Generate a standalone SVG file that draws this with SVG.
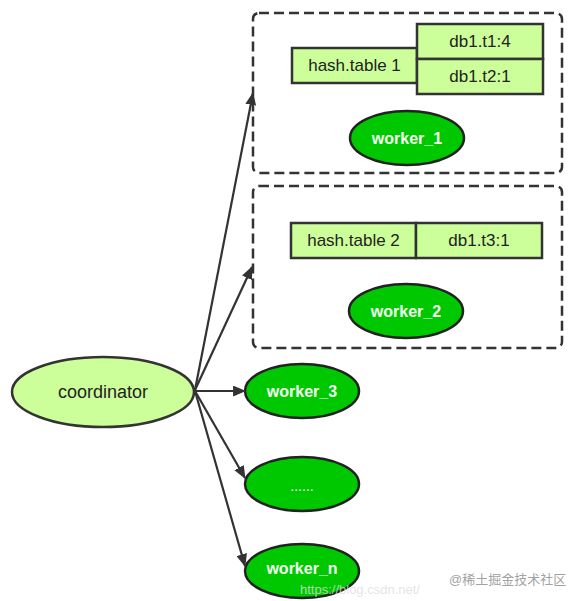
<svg xmlns="http://www.w3.org/2000/svg" width="574" height="601" viewBox="0 0 574 601">
<defs>
<style>
.box{fill:none;stroke:#333;stroke-width:2.5;stroke-dasharray:10,5}
.cell{fill:#ccff99;stroke:#333;stroke-width:2.5}
.w{fill:#00c800;stroke:#222;stroke-width:2.5}
.c{fill:#ccff99;stroke:#333;stroke-width:2.5}
.t{font-family:"Liberation Sans",Arial,sans-serif;font-size:17px;text-anchor:middle;dominant-baseline:central;fill:#222}
.tw{font-family:"Liberation Sans",Arial,sans-serif;font-size:16px;font-weight:bold;text-anchor:middle;dominant-baseline:central;fill:#f4fff0}
.e{fill:none;stroke:#333;stroke-width:2.2;marker-end:url(#ah)}
</style>
<marker id="ah" viewBox="0 0 12 10" refX="11" refY="5" markerWidth="13" markerHeight="11" markerUnits="userSpaceOnUse" orient="auto">
<path d="M0,0 L12,5 L0,10 z" fill="#333"/>
</marker>
</defs>
<rect width="574" height="601" fill="#fff"/>
<g id="group1">
<rect class="box" x="253" y="13" width="309" height="160" rx="6"/>
</g>
<g id="group2">
<rect class="box" x="253" y="186" width="309" height="162" rx="6"/>
</g>
<g id="hash1">
<rect class="cell" x="292" y="48" width="125" height="35"/>
<text class="t" x="354.5" y="65.5">hash.table 1</text>
</g>
<g id="db1t1">
<rect class="cell" x="417" y="24" width="126" height="35"/>
<text class="t" x="480" y="41.5">db1.t1:4</text>
</g>
<g id="db1t2">
<rect class="cell" x="417" y="59" width="126" height="35"/>
<text class="t" x="480" y="76.5">db1.t2:1</text>
</g>
<g id="worker_1">
<ellipse class="w" cx="407" cy="138" rx="57" ry="27"/>
<text class="tw" x="407" y="138">worker_1</text>
</g>
<g id="hash2">
<rect class="cell" x="291" y="223" width="125" height="35"/>
<text class="t" x="353.5" y="240.5">hash.table 2</text>
</g>
<g id="db1t3">
<rect class="cell" x="416" y="223" width="126" height="35"/>
<text class="t" x="479" y="240.5">db1.t3:1</text>
</g>
<g id="worker_2">
<ellipse class="w" cx="406" cy="311" rx="57" ry="27"/>
<text class="tw" x="406" y="311">worker_2</text>
</g>
<g id="coordinator">
<ellipse class="c" cx="103" cy="392" rx="91" ry="35"/>
<text class="t" x="103" y="392" style="font-size:18px">coordinator</text>
</g>
<g id="worker_3">
<ellipse class="w" cx="302" cy="391" rx="57" ry="27"/>
<text class="tw" x="302" y="391">worker_3</text>
</g>
<g id="worker_dots">
<ellipse class="w" cx="302" cy="484" rx="57" ry="27"/>
<text class="tw" x="302" y="486" style="font-weight:normal;font-size:14px">......</text>
</g>
<g id="worker_n">
<ellipse class="w" cx="302" cy="571" rx="57" ry="27"/>
<text class="tw" x="302" y="568">worker_n</text>
</g>
<g id="connectors">
<path class="e" d="M195,390 L253,93"/>
<path class="e" d="M195,390 L252,267"/>
<path class="e" d="M195,391 L245,391"/>
<path class="e" d="M195,391 L245,478"/>
<path class="e" d="M195,391 L245,566"/>
</g>
<g id="watermark" font-family="'Liberation Sans','Noto Sans CJK SC',sans-serif">
<text x="300" y="594" font-size="13" fill="#ddd" fill-opacity="0.8">https://blog.csdn.net/</text>
<text x="449" y="584" fill="#888" fill-opacity="0.8" font-size="13">@稀土掘金技术社区</text>
</g>
</svg>
